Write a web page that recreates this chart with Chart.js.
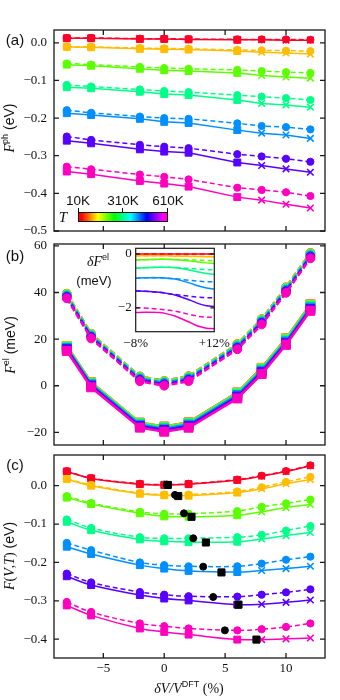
<!DOCTYPE html>
<html><head><meta charset="utf-8">
<script src="https://cdn.jsdelivr.net/npm/chart.js@4.4.1/dist/chart.umd.min.js"></script>
<style>
html,body{margin:0;padding:0;background:#fff;}
#wrap{position:relative;width:340px;height:700px;overflow:hidden;background:#fff;}
canvas{position:absolute;left:0;top:0;}
.t{position:absolute;white-space:nowrap;color:#111;line-height:1;transform:translate(-50%,-50%);}
.r{transform:translate(-50%,-50%) rotate(-90deg);}
.sans{font-family:"Liberation Sans","DejaVu Sans",Arial,sans-serif;}
.serif{font-family:"Liberation Serif","DejaVu Serif",serif;}
.it{font-style:italic;}
.sup{font-size:9px;position:relative;top:-6px;font-family:"Liberation Sans","DejaVu Sans",sans-serif;font-style:normal;}
#cbar{position:absolute;left:78px;top:212px;width:90px;height:10px;box-sizing:border-box;border:1px solid #111;background:linear-gradient(to right,#ff0029 0%,#ff0000 3%,#ffff00 21.5%,#00ff00 40%,#00ffff 58.6%,#0000ff 77%,#ff00ff 95.4%,#ff00bf 100%);}
.tk{position:absolute;width:1px;height:4px;background:#111;}
</style></head><body>
<div id="wrap">
<canvas id="ca" width="340" height="700"></canvas>
<canvas id="cb" width="340" height="700"></canvas>
<canvas id="ci" width="340" height="700"></canvas>
<canvas id="cc" width="340" height="700"></canvas>

<div class="t sans" style="left:15px;top:39px;font-size:15px">(a)</div>
<div class="t sans" style="left:15px;top:255px;font-size:15px">(b)</div>
<div class="t sans" style="left:15px;top:464px;font-size:15px">(c)</div>

<div class="t r" style="left:9px;top:128px"><span class="serif it" style="font-size:14px">F</span><span class="sup">ph</span><span class="sans" style="font-size:14px"> (eV)</span></div>
<div class="t r" style="left:10px;top:345px"><span class="serif it" style="font-size:14px">F</span><span class="sup">el</span><span class="sans" style="font-size:14px"> (meV)</span></div>
<div class="t r" style="left:9px;top:556px"><span class="serif" style="font-size:14px"><i>F</i>(<i>V</i>,<i>T</i>)</span><span class="sans" style="font-size:14px"> (eV)</span></div>
<div class="t" style="left:189px;top:688px"><span class="serif it" style="font-size:14px">δV/V</span><span class="sup">DFT</span><span class="serif" style="font-size:14px"> (%)</span></div>

<div id="cbar"></div>
<div class="tk" style="left:78px;top:208px"></div>
<div class="tk" style="left:122px;top:208px"></div>
<div class="tk" style="left:167px;top:208px"></div>
<div class="t sans" style="left:78px;top:201px;font-size:13.5px">10K</div>
<div class="t sans" style="left:123px;top:201px;font-size:13.5px">310K</div>
<div class="t sans" style="left:168px;top:201px;font-size:13.5px">610K</div>
<div class="t serif it" style="left:63px;top:217px;font-size:15px">T</div>

<div class="t" style="left:98px;top:261px"><span class="serif it" style="font-size:14px">δF</span><span class="sup">el</span></div>
<div class="t sans" style="left:94px;top:280px;font-size:13px">(meV)</div>
</div>
<script>
// ---------- data ----------
const xVals = [-8, -6, -2, 0, 2, 6, 8, 10, 12];
const temps = ['10K', '110K', '210K', '310K', '410K', '510K', '610K'];
const tempColors = ['#ff0029', '#ffbd00', '#5cff00', '#00ff89', '#008fff', '#5700ff', '#ff00bf'];
const xTicks = [-5, 0, 5, 10];
const yTicksPh = [0, -0.1, -0.2, -0.3, -0.4, -0.5];
const yTicksEl = [60, 40, 20, 0, -20];
const yTicksF = [0, -0.1, -0.2, -0.3, -0.4];
const insetYTicks = [0, -2];
const insetXTicks = [-8, 12];
const solidMarkers = ['rect', 'rect', 'rect', 'rect', 'rect', 'rect', 'crossRot', 'crossRot', 'crossRot'];

// (a) phonon free energy (eV)
const phSolid = [
  [0.012, 0.012, 0.010, 0.010, 0.009, 0.008, 0.008, 0.007, 0.007],
  [-0.011, -0.012, -0.016, -0.017, -0.018, -0.022, -0.025, -0.027, -0.030],
  [-0.058, -0.061, -0.069, -0.073, -0.075, -0.080, -0.087, -0.091, -0.094],
  [-0.118, -0.121, -0.130, -0.136, -0.139, -0.152, -0.161, -0.165, -0.171],
  [-0.187, -0.192, -0.202, -0.210, -0.213, -0.232, -0.240, -0.245, -0.254],
  [-0.260, -0.267, -0.283, -0.289, -0.292, -0.318, -0.326, -0.335, -0.344],
  [-0.342, -0.349, -0.367, -0.374, -0.382, -0.410, -0.418, -0.429, -0.439]
];
const phDashed = [
  [0.013, 0.013, 0.011, 0.011, 0.010, 0.009, 0.009, 0.009, 0.008],
  [-0.010, -0.011, -0.014, -0.015, -0.016, -0.019, -0.020, -0.021, -0.022],
  [-0.055, -0.058, -0.064, -0.067, -0.069, -0.072, -0.075, -0.078, -0.080],
  [-0.112, -0.116, -0.124, -0.128, -0.131, -0.139, -0.143, -0.147, -0.152],
  [-0.179, -0.186, -0.196, -0.200, -0.202, -0.214, -0.221, -0.224, -0.230],
  [-0.249, -0.258, -0.271, -0.276, -0.280, -0.296, -0.302, -0.308, -0.316],
  [-0.329, -0.336, -0.350, -0.356, -0.363, -0.385, -0.391, -0.397, -0.407]
];

// (b) electronic free energy at 10K (meV) and the inset's shift dF(T) (meV)
const elDashed10K = [39.5, 22.3, 4.0, 2.1, 4.1, 17.9, 28.6, 42.2, 57.0];
const elSolid10K = [17.1, 1.5, -15.8, -17.5, -15.7, -2.9, 7.7, 20.3, 34.9];
const dElSolid = [
  [0, 0, 0, 0, 0, 0, 0, 0, 0],
  [-0.07, -0.07, -0.07, -0.07, -0.08, -0.09, -0.09, -0.10, -0.10],
  [-0.22, -0.21, -0.20, -0.20, -0.21, -0.26, -0.30, -0.33, -0.35],
  [-0.53, -0.51, -0.49, -0.49, -0.51, -0.60, -0.67, -0.72, -0.75],
  [-0.90, -0.88, -0.88, -0.90, -0.93, -1.09, -1.19, -1.26, -1.30],
  [-1.37, -1.38, -1.42, -1.46, -1.52, -1.72, -1.84, -1.92, -1.95],
  [-2.17, -2.16, -2.17, -2.22, -2.30, -2.55, -2.68, -2.75, -2.77]
];
const dElDashed = [
  [0, 0, 0, 0, 0, 0, 0, 0, 0],
  [-0.07, -0.07, -0.07, -0.07, -0.07, -0.08, -0.09, -0.09, -0.10],
  [-0.22, -0.21, -0.20, -0.20, -0.20, -0.22, -0.23, -0.24, -0.25],
  [-0.53, -0.51, -0.49, -0.49, -0.50, -0.54, -0.56, -0.58, -0.59],
  [-0.90, -0.88, -0.88, -0.90, -0.92, -0.98, -1.01, -1.03, -1.03],
  [-1.37, -1.38, -1.42, -1.46, -1.50, -1.57, -1.60, -1.62, -1.62],
  [-1.99, -2.00, -2.05, -2.08, -2.12, -2.25, -2.31, -2.34, -2.34]
];

// (c) total free energy F(V,T) (eV)
const FSolid = [
  [0.037, 0.019, 0.004, 0.002, 0.004, 0.015, 0.025, 0.037, 0.052],
  [0.017, 0.000, -0.021, -0.025, -0.026, -0.018, -0.008, 0.005, 0.016],
  [-0.031, -0.048, -0.072, -0.080, -0.081, -0.077, -0.068, -0.057, -0.049],
  [-0.094, -0.116, -0.140, -0.145, -0.147, -0.146, -0.139, -0.130, -0.122],
  [-0.159, -0.178, -0.207, -0.216, -0.222, -0.225, -0.221, -0.216, -0.210],
  [-0.236, -0.259, -0.285, -0.294, -0.299, -0.310, -0.309, -0.304, -0.298],
  [-0.312, -0.338, -0.372, -0.381, -0.388, -0.401, -0.401, -0.399, -0.397]
];
const FDashed = [
  [0.038, 0.020, 0.005, 0.003, 0.005, 0.016, 0.026, 0.038, 0.053],
  [0.018, 0.002, -0.019, -0.023, -0.023, -0.015, -0.004, 0.010, 0.023],
  [-0.027, -0.045, -0.068, -0.073, -0.073, -0.066, -0.055, -0.046, -0.036],
  [-0.088, -0.110, -0.134, -0.137, -0.137, -0.134, -0.128, -0.117, -0.105],
  [-0.149, -0.168, -0.200, -0.207, -0.210, -0.210, -0.203, -0.193, -0.185],
  [-0.229, -0.252, -0.277, -0.284, -0.288, -0.289, -0.284, -0.278, -0.270],
  [-0.303, -0.329, -0.359, -0.366, -0.372, -0.377, -0.374, -0.368, -0.359]
];
const minSolidX = [0.3, 1.15, 2.24, 3.42, 4.7, 6.1, 7.57];
const minSolidY = [0.002, -0.027, -0.081, -0.148, -0.226, -0.310, -0.401];
const minDashedX = [0.2, 0.88, 1.62, 2.38, 3.2, 4.02, 4.98];
const minDashedY = [0.003, -0.024, -0.072, -0.137, -0.211, -0.290, -0.377];

// ---------- helpers ----------
const SERIF = '"Liberation Serif","DejaVu Serif",serif';
const pts = ys => xVals.map((x, i) => ({ x, y: ys[i] }));
const minus = v => (v < 0 ? '\u2212' : '') + Math.abs(v);
const fmt1 = v => (v < 0 ? '\u2212' : '') + Math.abs(v).toFixed(1);

const frameTicks = {
  id: 'frameTicks',
  afterDatasetsDraw(chart, args, o) {
    const { ctx, chartArea: a } = chart;
    const xs = chart.scales.x, ys = chart.scales.y;
    const L = o.len || 5;
    ctx.save();
    ctx.strokeStyle = '#1a1a1a';
    ctx.lineWidth = o.lw || 1.3;
    ctx.beginPath();
    if (o.xt !== false) xs.ticks.forEach(t => {
      const p = xs.getPixelForValue(t.value);
      ctx.moveTo(p, a.bottom); ctx.lineTo(p, a.bottom - L);
      ctx.moveTo(p, a.top); ctx.lineTo(p, a.top + L);
    });
    ys.ticks.forEach(t => {
      const p = ys.getPixelForValue(t.value);
      ctx.moveTo(a.left, p); ctx.lineTo(a.left + L, p);
      ctx.moveTo(a.right, p); ctx.lineTo(a.right - L, p);
    });
    ctx.stroke();
    ctx.strokeRect(a.left, a.top, a.right - a.left, a.bottom - a.top);
    ctx.restore();
  }
};
Chart.register(frameTicks);

const whiteBg = {
  id: 'whiteBg',
  beforeDatasetsDraw(chart) {
    const { ctx, chartArea: a } = chart;
    ctx.save(); ctx.fillStyle = '#fff';
    ctx.fillRect(a.left, a.top, a.right - a.left, a.bottom - a.top);
    ctx.restore();
  }
};

function mkOpts(o) {
  return {
    responsive: false, animation: false, events: [],
    layout: { padding: { left: 0, top: o.T, right: 340 - o.R, bottom: 0 } },
    plugins: { legend: { display: false }, tooltip: { enabled: false },
      frameTicks: { len: o.len || 5, xt: o.xt !== false, lw: o.lw || 1.3 } },
    scales: {
      x: {
        type: 'linear', position: 'bottom', min: o.xmin, max: o.xmax,
        afterBuildTicks: s => { s.ticks = o.xticks.map(v => ({ value: v })); },
        afterFit: s => { s.height = 700 - o.B; },
        grid: { display: false, drawTicks: false }, border: { display: false },
        ticks: { display: !!o.xfmt, padding: o.xpad || 3, autoSkip: false, maxRotation: 0,
          color: '#111', font: { family: SERIF, size: 13 }, callback: o.xfmt || (() => '') }
      },
      y: {
        type: 'linear', position: 'left', min: o.ymin, max: o.ymax,
        afterBuildTicks: s => { s.ticks = o.yticks.map(v => ({ value: v })); },
        afterFit: s => { s.width = o.L; },
        grid: { display: false, drawTicks: false }, border: { display: false },
        ticks: { padding: o.ypad || 7, autoSkip: false, color: '#111',
          font: { family: SERIF, size: 13 }, callback: o.yfmt }
      }
    }
  };
}

function tempSets(solid, dashed, cfg) {
  const out = [];
  temps.forEach((t, i) => {
    const c = tempColors[i];
    const mk = cfg.markers;
    out.push({
      label: t + ' solid', data: pts(solid[i]), borderColor: c, backgroundColor: c,
      borderWidth: cfg.lw, tension: cfg.tension,
      pointStyle: mk, pointRadius: mk.map(s => s === 'rect' ? cfg.rRect : cfg.rCross),
      pointBorderWidth: mk.map(s => s === 'rect' ? 1 : 1.6), order: 20 - i
    });
    out.push({
      label: t + ' dashed', data: pts(dashed[i]), borderColor: c, backgroundColor: c,
      borderWidth: cfg.lw, borderDash: cfg.dash, tension: cfg.tension,
      pointStyle: 'circle', pointRadius: cfg.rCirc, pointBorderWidth: 1, order: 20 - i
    });
  });
  return out;
}

// ---------- (a) ----------
new Chart(document.getElementById('ca'), {
  type: 'line',
  data: { datasets: tempSets(phSolid, phDashed,
    { markers: solidMarkers, lw: 1.5, tension: 0, rRect: 4.9, rCross: 4.6, rCirc: 3.6, dash: [5, 3] }) },
  options: mkOpts({ L: 54, R: 325, T: 30, B: 231, xmin: -9.05, xmax: 13.2, ymin: -0.5, ymax: 0.034,
    xticks: xTicks, yticks: yTicksPh, yfmt: fmt1 })
});

// ---------- (b) ----------
const elSolid = dElSolid.map(d => elSolid10K.map((v, j) => v + d[j]));
const elDashed = dElDashed.map(d => elDashed10K.map((v, j) => v + d[j]));
new Chart(document.getElementById('cb'), {
  type: 'line',
  data: { datasets: tempSets(elSolid, elDashed,
    { markers: xVals.map(() => 'rect'), lw: 2.5, tension: 0, rRect: 6.3, rCross: 6, rCirc: 4.4, dash: [6, 3] }) },
  options: mkOpts({ L: 54, R: 325, T: 244, B: 445, xmin: -9.05, xmax: 13.2, ymin: -25.4, ymax: 60.8,
    xticks: xTicks, yticks: yTicksEl, yfmt: minus })
});

// ---------- inset ----------
const insetSets = [];
temps.forEach((t, i) => {
  const c = tempColors[i];
  insetSets.push({ label: t + ' dF solid', data: pts(dElSolid[i]), borderColor: c, borderWidth: 1.5,
    pointRadius: 0, tension: 0.4, order: 20 - i });
  insetSets.push({ label: t + ' dF dashed', data: pts(dElDashed[i]), borderColor: c, borderWidth: 1.5,
    borderDash: [5, 3], pointRadius: 0, tension: 0.4, order: 20 - i });
});
new Chart(document.getElementById('ci'), {
  type: 'line',
  data: { datasets: insetSets },
  plugins: [whiteBg],
  options: mkOpts({ L: 135.7, R: 214.3, T: 248.3, B: 331.7, xmin: -8, xmax: 12, ymin: -2.88, ymax: 0.21,
    xticks: insetXTicks, yticks: insetYTicks, xt: false, len: 4, lw: 1.2, ypad: 4, xpad: 4,
    yfmt: minus, xfmt: v => (v < 0 ? '\u2212' : '+') + Math.abs(v) + '%' })
});

// ---------- (c) ----------
const cSets = tempSets(FSolid, FDashed,
  { markers: solidMarkers, lw: 1.5, tension: 0.4, rRect: 4.9, rCross: 4.6, rCirc: 3.6, dash: [5, 3] });
cSets.push({ label: 'min solid', data: minSolidX.map((x, i) => ({ x, y: minSolidY[i] })), showLine: false,
  pointStyle: 'rect', pointRadius: 5, backgroundColor: '#000', borderColor: '#000', pointBorderWidth: 1, order: 0 });
cSets.push({ label: 'min dashed', data: minDashedX.map((x, i) => ({ x, y: minDashedY[i] })), showLine: false,
  pointStyle: 'circle', pointRadius: 3.5, backgroundColor: '#000', borderColor: '#000', pointBorderWidth: 1, order: 1 });
new Chart(document.getElementById('cc'), {
  type: 'line',
  data: { datasets: cSets },
  options: mkOpts({ L: 54, R: 325, T: 455, B: 658, xmin: -9.05, xmax: 13.2, ymin: -0.449, ymax: 0.080,
    xticks: xTicks, yticks: yTicksF, yfmt: fmt1, xfmt: minus })
});
</script>
</body></html>
